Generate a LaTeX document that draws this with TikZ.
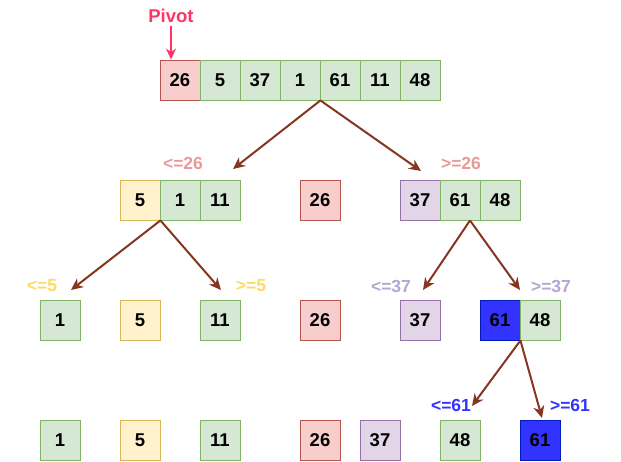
\documentclass[tikz,border=0pt]{standalone}
\usepackage{fontspec}
\setmainfont{Liberation Sans}
\usetikzlibrary{arrows.meta}
\definecolor{grfill}{HTML}{D5E8D4}
\definecolor{grline}{HTML}{82B366}
\definecolor{rdfill}{HTML}{F8CECC}
\definecolor{rdline}{HTML}{B85450}
\definecolor{ylfill}{HTML}{FFF2CC}
\definecolor{ylline}{HTML}{D6B656}
\definecolor{pufill}{HTML}{E1D5E7}
\definecolor{puline}{HTML}{9673A6}
\definecolor{blfill}{HTML}{3333FF}
\definecolor{blline}{HTML}{001DBC}
\definecolor{arrowc}{HTML}{86351F}
\definecolor{pivotc}{HTML}{FF3366}
\definecolor{rdtag}{HTML}{EA9999}
\definecolor{yltag}{HTML}{FFD966}
\definecolor{putag}{HTML}{B4A7D6}
\tikzset{
  cell/.style={minimum size=40pt, inner sep=0pt, line width=0.9pt, font=\bfseries\fontsize{18.5}{18.5}\selectfont},
  gcell/.style={cell, draw=grline, fill=grfill},
  rcell/.style={cell, draw=rdline, fill=rdfill},
  ycell/.style={cell, draw=ylline, fill=ylfill},
  pcell/.style={cell, draw=puline, fill=pufill},
  bcell/.style={cell, draw=blline, fill=blfill},
  split/.style={-{Stealth[length=12pt,width=11pt]}, line width=2pt, color=arrowc},
  tag/.style={font=\bfseries\fontsize{17.5}{17.5}\selectfont}
}
\begin{document}
\begin{tikzpicture}[x=1pt,y=-1pt]
\useasboundingbox (0,0) rectangle (621,461);
% first row, pivot is 26
\node[rcell] (t1) at (180,80) {26};
\node[gcell] (t2) at (220,80) {5};
\node[gcell] (t3) at (260,80) {37};
\node[gcell] (t4) at (300,80) {1};
\node[gcell] (t5) at (340,80) {61};
\node[gcell] (t6) at (380,80) {11};
\node[gcell] (t7) at (420,80) {48};
\node[pivotc,font=\bfseries\fontsize{18.5}{18.5}\selectfont] (pivot) at (171,16) {Pivot};
\draw[-{Stealth[length=11pt,width=10pt]}, line width=2pt, pivotc] (pivot.south) -- ([xshift=-9pt]t1.north);
% second row
\node[ycell] (a1) at (140,200) {5};
\node[gcell] (a2) at (180,200) {1};
\node[gcell] (a3) at (220,200) {11};
\node[rcell] (a4) at (320,200) {26};
\node[pcell] (a5) at (420,200) {37};
\node[gcell] (a6) at (460,200) {61};
\node[gcell] (a7) at (500,200) {48};
\coordinate (la) at (233,169);
\coordinate (ra) at (421,171);
\draw[split] (t4.south east) -- (la);
\draw[split] (t4.south east) -- (ra);
\node[tag, rdtag] (lta) at (183,163) {<=26};
\node[tag, rdtag] (rta) at (461,163) {>=26};
% third row
\node[gcell] (b1) at (60,320) {1};
\node[ycell] (b2) at (140,320) {5};
\node[gcell] (b3) at (220,320) {11};
\node[rcell] (b4) at (320,320) {26};
\node[pcell] (b5) at (420,320) {37};
\node[bcell] (b6) at (500,320) {61};
\node[gcell] (b7) at (540,320) {48};
\coordinate (lb) at (71,290);
\coordinate (rb) at (221,290);
\coordinate (lc) at (423,290);
\coordinate (rc) at (520,290);
\draw[split] (a1.south east) -- (lb);
\draw[split] (a1.south east) -- (rb);
\draw[split] ([xshift=10pt]a6.south) -- (lc);
\draw[split] ([xshift=10pt]a6.south) -- (rc);
\node[tag, yltag] (ltb) at (42,286) {<=5};
\node[tag, yltag] (rtb) at (251,286) {>=5};
\node[tag, putag] (ltc) at (391,286) {<=37};
\node[tag, putag] (rtc) at (551,286) {>=37};
% last row
\node[gcell] (c1) at (60,440) {1};
\node[ycell] (c2) at (140,440) {5};
\node[gcell] (c3) at (220,440) {11};
\node[rcell] (c4) at (320,440) {26};
\node[pcell] (c5) at (380,440) {37};
\node[gcell] (c6) at (460,440) {48};
\node[bcell] (c7) at (540,440) {61};
\coordinate (ld) at (472,406);
\coordinate (rd) at (542,418);
\draw[split] (b6.south east) -- (ld);
\draw[split] (b6.south east) -- (rd);
\node[tag, blfill] (ltd) at (451,405) {<=61};
\node[tag, blfill] (rtd) at (570,405) {>=61};
\end{tikzpicture}
\end{document}
